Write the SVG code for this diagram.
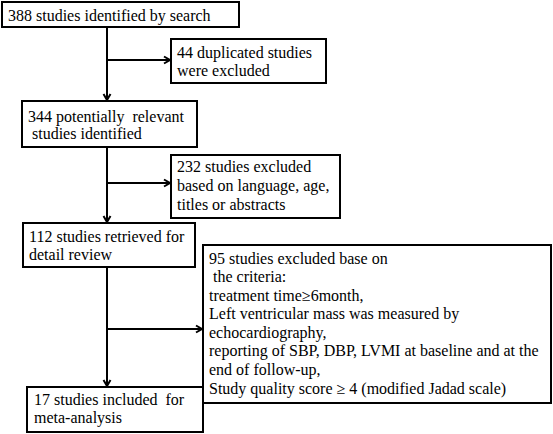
<svg xmlns="http://www.w3.org/2000/svg" width="553" height="434" viewBox="0 0 553 434">
<defs>
<marker id="arr" markerWidth="10" markerHeight="10" refX="8" refY="5" orient="auto" markerUnits="userSpaceOnUse">
<path d="M2,1.5 L8,5 L2,8.5" fill="none" stroke="#000" stroke-width="2"/>
</marker>
</defs>
<style>
.box{fill:#fff;stroke:#000;stroke-width:2}
.t{font-family:"Liberation Serif","Times New Roman",serif;font-size:16px;fill:#000}
.c{fill:none;stroke:#000;stroke-width:2}
</style>
<rect width="553" height="434" fill="#fff"/>
<g id="connectors">
<line class="c" x1="107" y1="27" x2="107" y2="100" marker-end="url(#arr)"/>
<line class="c" x1="107" y1="60" x2="170" y2="60" marker-end="url(#arr)"/>
<line class="c" x1="107" y1="147" x2="107" y2="222" marker-end="url(#arr)"/>
<line class="c" x1="107" y1="183" x2="170" y2="183" marker-end="url(#arr)"/>
<line class="c" x1="107" y1="267" x2="107" y2="386" marker-end="url(#arr)"/>
<line class="c" x1="107" y1="329" x2="202" y2="329" marker-end="url(#arr)"/>
</g>
<g id="n1">
<rect class="box" x="2" y="2" width="237" height="25"/>
<text class="t" x="8" y="21">388 studies identified by search</text>
</g>
<g id="n2">
<rect class="box" x="171" y="39" width="155" height="44"/>
<text class="t" x="177" y="58">44 duplicated studies</text>
<text class="t" x="177" y="76">were excluded</text>
</g>
<g id="n3">
<rect class="box" x="22" y="101" width="175" height="46"/>
<text class="t" x="28" y="122" xml:space="preserve">344 potentially  relevant</text>
<text class="t" x="28" y="139" xml:space="preserve"> studies identified</text>
</g>
<g id="n4">
<rect class="box" x="171" y="155" width="169" height="63"/>
<text class="t" x="177" y="172">232 studies excluded</text>
<text class="t" x="177" y="191">based on language, age,</text>
<text class="t" x="177" y="210">titles or abstracts</text>
</g>
<g id="n5">
<rect class="box" x="23" y="223" width="172" height="44"/>
<text class="t" x="29" y="242">112 studies retrieved for</text>
<text class="t" x="29" y="260">detail review</text>
</g>
<g id="n6">
<rect class="box" x="203" y="245" width="348" height="158"/>
<text class="t" x="209" y="263.5">95 studies excluded base on</text>
<text class="t" x="209" y="282" xml:space="preserve"> the criteria:</text>
<text class="t" x="209" y="300.5">treatment time≥6month,</text>
<text class="t" x="209" y="319">Left ventricular mass was measured by</text>
<text class="t" x="209" y="337.5">echocardiography,</text>
<text class="t" x="209" y="356">reporting of SBP, DBP, LVMI at baseline and at the</text>
<text class="t" x="209" y="374.5">end of follow-up,</text>
<text class="t" x="209" y="394">Study quality score ≥ 4 (modified Jadad scale)</text>
</g>
<g id="n7">
<rect class="box" x="27" y="387" width="176" height="45"/>
<text class="t" x="34" y="405" xml:space="preserve">17 studies included  for</text>
<text class="t" x="34" y="423">meta-analysis</text>
</g>
</svg>
